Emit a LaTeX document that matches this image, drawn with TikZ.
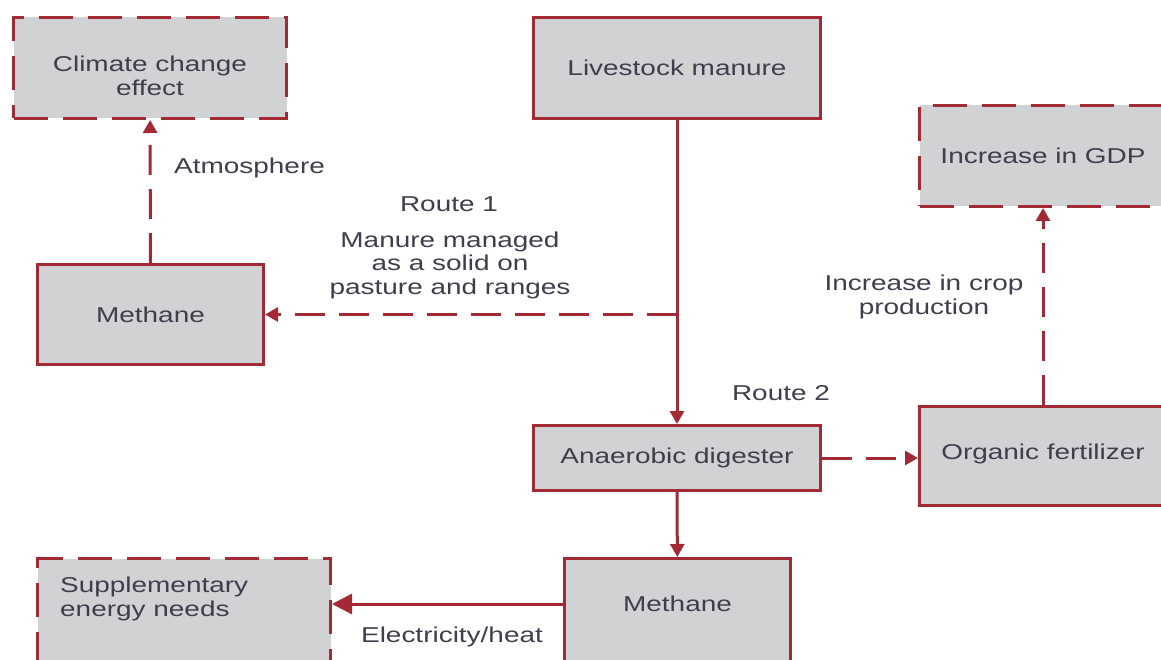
\documentclass[tikz,border=0pt]{standalone}
\usepackage{fontspec}
\setmainfont[FakeStretch=1.3]{Liberation Sans}
\usetikzlibrary{arrows.meta}
\definecolor{routered}{RGB}{163,41,52}
\definecolor{boxgrey}{RGB}{209,210,212}
\definecolor{inkgrey}{RGB}{62,62,76}

\begin{document}
\begin{tikzpicture}[x=1pt, y=-1pt,
  every node/.style={font=\fontsize{21.5}{23.5}\selectfont, text=inkgrey},
  box/.style={draw=routered, fill=boxgrey, line width=3pt, inner sep=0pt,
              anchor=north west, align=center},
  dbox/.style={box, dash pattern=on 34pt off 15pt},
  lbl/.style={inner sep=0pt, align=center},
  ar/.style={draw=routered, line width=3pt, -{Triangle[length=13pt,width=14pt]}},
  dar/.style={ar, dash pattern=on 30pt off 14pt}]

\useasboundingbox (0,0) rectangle (1161,660);
\clip (0,0) rectangle (1161,660);

% boxes
\node[dbox, minimum width=273pt, minimum height=101pt, text height=55pt] (clim) at (12,16) {Climate change\\effect};
\node[box, minimum width=287pt, minimum height=101pt] (manure) at (532,16) {Livestock manure};
\node[dbox, minimum width=267pt, minimum height=101pt] (gdp) at (918,104) {Increase in GDP\hspace*{20pt}};
\node[box, minimum width=226pt, minimum height=100pt] (meth1) at (36,263) {Methane};
\node[box, minimum width=287pt, minimum height=65pt] (dig) at (532,424) {Anaerobic digester};
\node[box, minimum width=267pt, minimum height=99pt, text depth=9pt] (fert) at (918,405) {Organic fertilizer\hspace*{20pt}};
\node[dbox, minimum width=293pt, minimum height=125pt] (supp) at (36,557) {};
\node[lbl, anchor=north west, align=left] (supptxt) at (60,577) {Supplementary\\energy needs};
\node[box, minimum width=226pt, minimum height=125pt, text depth=34pt] (meth2) at (563,557) {Methane};

% labels
\node[lbl, anchor=west] (atm) at (174,168) {Atmosphere};
\node[lbl] (r1) at (449,204) {Route 1};
\node[lbl] (r1txt) at (450,265) {Manure managed\\as a solid on\\pasture and ranges};
\node[lbl] (r2) at (781,393) {Route 2};
\node[lbl] (crop) at (924,297) {Increase in crop\\production};
\node[lbl] (elec) at (452,637) {Electricity/heat};

% connectors
\coordinate (split) at (manure.south |- meth1.east);
\draw[ar] (manure) -- (dig);
\draw[dar] (split) -- (meth1.east);
\draw[dar] (meth1) -- (clim);
\draw[dar] (dig.east) -- (dig.east -| fert.west);
\draw[dar] ([xshift=-10pt]fert.north) -- ([xshift=-10pt]gdp.south);
\draw[ar] (dig) -- (meth2);
\draw[ar, -{Triangle[length=20pt,width=20pt]}] (meth2.west |- 0,604) -- (supp.east |- 0,604);
\end{tikzpicture}
\end{document}
